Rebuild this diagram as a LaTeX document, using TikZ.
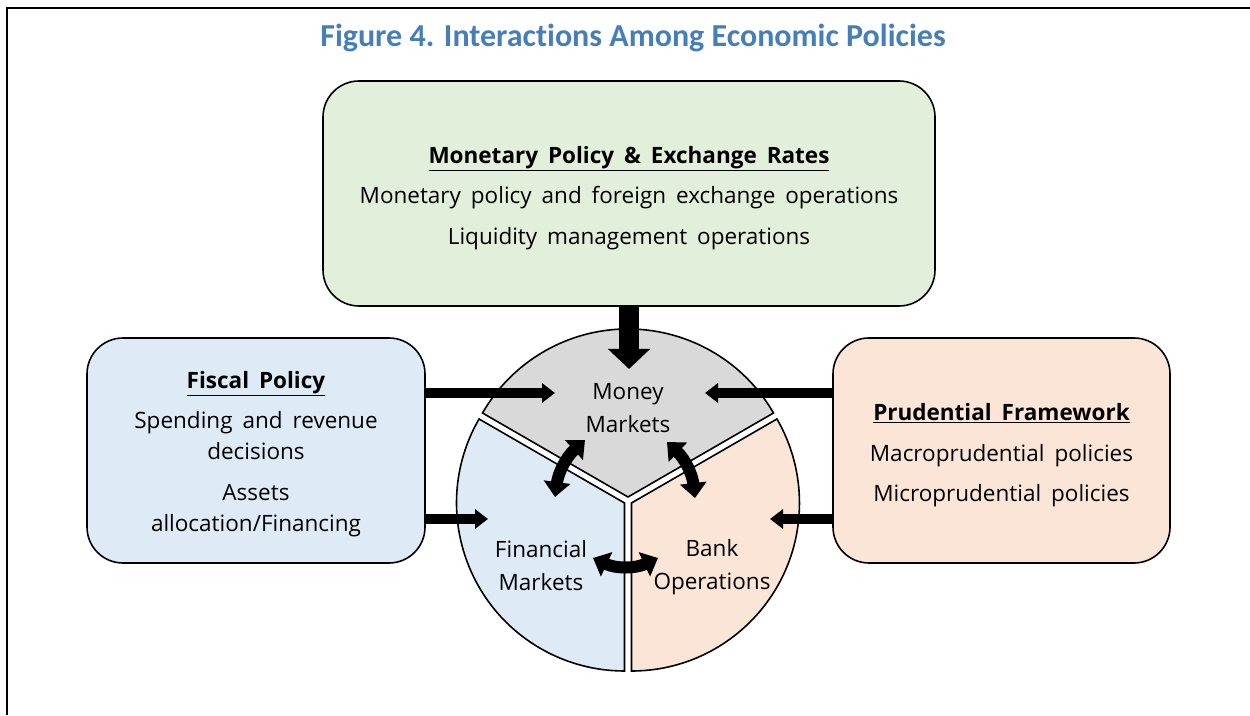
\documentclass[tikz,border=0pt]{standalone}
\usepackage{fontspec}
\setmainfont{Open Sans}[WordSpace=1.7]
\newfontfamily\titlefont{Carlito}[Ligatures=NoCommon]
\usetikzlibrary{arrows.meta}
\definecolor{titleblue}{RGB}{70,126,186}
\definecolor{greenfill}{RGB}{226,239,218}
\definecolor{bluefill}{RGB}{222,235,247}
\definecolor{orangefill}{RGB}{251,229,214}
\definecolor{greyfill}{RGB}{217,217,217}
\begin{document}
\begin{tikzpicture}[x=1pt,y=1pt,
    policybox/.style={draw, line width=1.6pt, rounded corners=36pt, minimum height=225pt},
    policytext/.style={align=center, inner sep=0pt, font=\fontsize{22.5}{31}\selectfont},
    sector/.style={draw, line width=1.6pt},
    seglabel/.style={align=center, font=\fontsize{22.5}{33}\selectfont},
    bigarrow/.style={line width=20pt, -{Triangle[length=20pt,width=41pt]}},
    sidearrow/.style={line width=10pt, -{Triangle[length=13pt,width=19pt]}},
    twoway/.style={line width=12pt, {Triangle[length=15pt,width=26pt]}-{Triangle[length=15pt,width=26pt]}}]
  \useasboundingbox (0,0) rectangle (1250,715);
  % frame
  \draw[line width=2.5pt] (7,0) -- (7,707) -- (1250,707);
  \node[font=\titlefont\fontsize{32}{36}\selectfont\bfseries, text=titleblue] (title) at (633,677)
    {Figure 4. Interactions Among Economic Policies};
  % policy boxes
  \node[policybox, fill=greenfill, minimum width=612pt] (mon) at (629,521.5) {};
  \node[policytext] (montext) at ([yshift=-5pt]mon.center)
    {\underline{\textbf{Monetary Policy \& Exchange Rates}}\\[9pt]
     Monetary policy and foreign exchange operations\\[10pt]
     Liquidity management operations};
  \node[policybox, fill=bluefill, minimum width=338pt] (fis) at (256,264.5) {};
  \node[policytext] (fistext) at ([yshift=-4pt]fis.center)
    {\underline{\textbf{Fiscal Policy}}\\[9pt]
     Spending and revenue\\ decisions\\[10pt]
     Assets\\ allocation/Financing};
  \node[policybox, fill=orangefill, minimum width=337pt] (pru) at (1001.5,264.5) {};
  \node[policytext] (prutext) at ([yshift=-5pt]pru.center)
    {\underline{\textbf{Prudential Framework}}\\[10pt]
     Macroprudential policies\\[9pt]
     Microprudential policies};
  % market circle
  \coordinate (c) at (628,214);
  \draw[sector, fill=greyfill] ([shift={(90:4)}]c) -- ++(30:168)
    arc[start angle=30, end angle=150, radius=168] -- cycle;
  \draw[sector, fill=bluefill] ([shift={(210:4)}]c) -- ++(150:168)
    arc[start angle=150, end angle=270, radius=168] -- cycle;
  \draw[sector, fill=orangefill] ([shift={(330:4)}]c) -- ++(270:168)
    arc[start angle=270, end angle=390, radius=168] -- cycle;
  \node[seglabel] (money) at (628,307) {Money\\Markets};
  \node[seglabel] (finance) at (541,149) {Financial\\Markets};
  \node[seglabel] (bank) at (712,148) {Bank\\Operations};
  % arrows into the circle
  \coordinate (mtip) at (629,346);
  \draw[bigarrow] (mon.south) -- (mtip);
  \coordinate (fin1) at (555,322);
  \coordinate (fin2) at (488,196);
  \draw[sidearrow] (fis.east |- fin1) -- (fin1);
  \draw[sidearrow] (fis.east |- fin2) -- (fin2);
  \coordinate (pru1) at (705,322);
  \coordinate (pru2) at (770,196);
  \draw[sidearrow] (pru.west |- pru1) -- (pru1);
  \draw[sidearrow] (pru.west |- pru2) -- (pru2);
  % two-way arrows between markets
  \coordinate (mf1) at (555,218);
  \coordinate (mf2) at (585,275);
  \draw[twoway] (mf1) to[bend left=20] (mf2);
  \coordinate (mb1) at (667,273);
  \coordinate (mb2) at (695,217);
  \draw[twoway] (mb1) to[bend left=20] (mb2);
  \coordinate (fb1) at (593,157);
  \coordinate (fb2) at (658,157);
  \draw[twoway] (fb1) to[bend right=25] (fb2);
\end{tikzpicture}
\end{document}
